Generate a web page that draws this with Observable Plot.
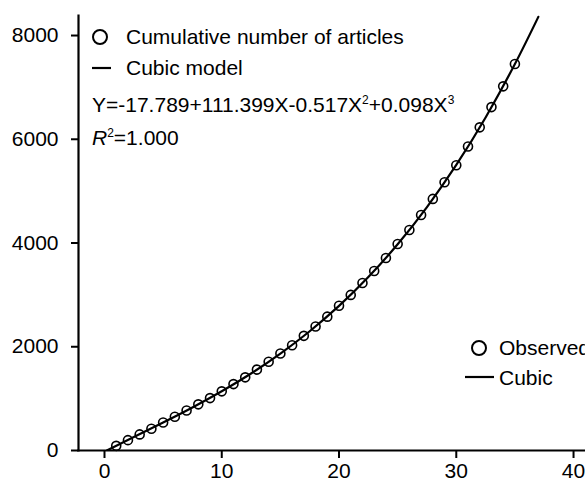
<!DOCTYPE html>
<html><head><meta charset="utf-8">
<script src="https://cdn.jsdelivr.net/npm/d3@7"></script>
<script src="https://cdn.jsdelivr.net/npm/@observablehq/plot@0.6"></script>
<style>body{margin:0;background:#fff} svg{display:block;background:#fff}</style>
</head><body><div id="chart"></div>
<script>
// Observed cumulative number of articles (x = 1..35)
const obsX = [1,2,3,4,5,6,7,8,9,10,11,12,13,14,15,16,17,18,19,20,21,22,23,24,25,26,27,28,29,30,31,32,33,34,35];
const obsY = [90,200,310,420,540,650,770,890,1010,1140,1280,1410,1560,1710,1870,2030,2210,2390,2580,2790,3000,3230,3460,3710,3980,4250,4540,4850,5170,5500,5860,6230,6620,7020,7450];
// Cubic model curve
const fitX = [0.2,2.5,5,7.5,10,12.5,15,17.5,20,22.5,25,27.5,30,32.5,35,37];
const fitY = [0,259,539,830,1142,1485,1868,2299,2787,3343,3975,4693,5505,6421,7450,8360];
const xTicks = [0,10,20,30,40];
const yTicks = [0,2000,4000,6000,8000];
const legendTop = ["Cumulative number of articles","Cubic model"];
const legendRight = ["Observed","Cubic"];

const observed = obsX.map((x,i)=>({x, y: obsY[i]}));
const fit = fitX.map((x,i)=>({x, y: fitY[i]}));

const font = "'Liberation Sans', Arial, sans-serif";
const svg = Plot.plot({
  width: 585, height: 482,
  marginLeft: 78, marginRight: 0, marginTop: 15, marginBottom: 32,
  style: {fontFamily: font, fontSize: "21px", color: "#000", background: "#fff"},
  x: {domain: [-2.217, 41.02]},
  y: {domain: [0, 8386]},
  marks: [
    Plot.axisX({ticks: xTicks, tickSize: 8, tickPadding: 5, fontSize: 21, label: null, strokeWidth: 2}),
    Plot.axisY({ticks: yTicks, tickSize: 7, tickPadding: 13, fontSize: 21, label: null, strokeWidth: 2, tickFormat: d => String(d)}),
    Plot.line(fit, {x: "x", y: "y", curve: "natural", stroke: "#000", strokeWidth: 2.2, clip: true}),
    Plot.dot(observed, {x: "x", y: "y", r: 4.5, stroke: "#000", strokeWidth: 1.6, fill: "none"}),
    Plot.frame({anchor: "left", stroke: "#000", strokeWidth: 2.2}),
    Plot.frame({anchor: "bottom", stroke: "#000", strokeWidth: 2.2})
  ]
});

const g = d3.select(svg).append("g")
  .attr("font-family", font).attr("font-size", 21).attr("fill", "#000")
  .attr("text-anchor", "start").style("text-anchor", "start");

// Top-left legend
g.append("circle").attr("cx", 100).attr("cy", 37).attr("r", 7)
  .attr("fill", "none").attr("stroke", "#000").attr("stroke-width", 2);
g.append("text").attr("x", 126).attr("y", 44).text(legendTop[0]);
g.append("line").attr("x1", 92).attr("x2", 111).attr("y1", 68).attr("y2", 68)
  .attr("stroke", "#000").attr("stroke-width", 2.2);
g.append("text").attr("x", 126).attr("y", 75).text(legendTop[1]);

// Equation
const eq = g.append("text").attr("x", 92).attr("y", 112);
const parts = [["Y=-17.789+111.399X-0.517X",""],["2","sup"],["+0.098X",""],["3","sup"]];
let raised = false;
parts.forEach(([t, k]) => {
  const ts = eq.append("tspan").text(t);
  if (k === "sup") { ts.attr("font-size", 12).attr("dy", -8); raised = true; }
  else if (raised) { ts.attr("dy", 8); raised = false; }
});
const r2 = g.append("text").attr("x", 92).attr("y", 145);
r2.append("tspan").attr("font-style", "italic").text("R");
r2.append("tspan").attr("font-size", 12).attr("dy", -8).text("2");
r2.append("tspan").attr("dy", 8).text("=1.000");

// Right legend (cropped at the picture's edge, as in the reference)
g.append("circle").attr("cx", 479).attr("cy", 348).attr("r", 7)
  .attr("fill", "none").attr("stroke", "#000").attr("stroke-width", 2);
g.append("text").attr("x", 499).attr("y", 355).text(legendRight[0]);
g.append("line").attr("x1", 465).attr("x2", 494).attr("y1", 377).attr("y2", 377)
  .attr("stroke", "#000").attr("stroke-width", 2.2);
g.append("text").attr("x", 499).attr("y", 385).text(legendRight[1]);

document.getElementById("chart").append(svg);
</script>
</body></html>
